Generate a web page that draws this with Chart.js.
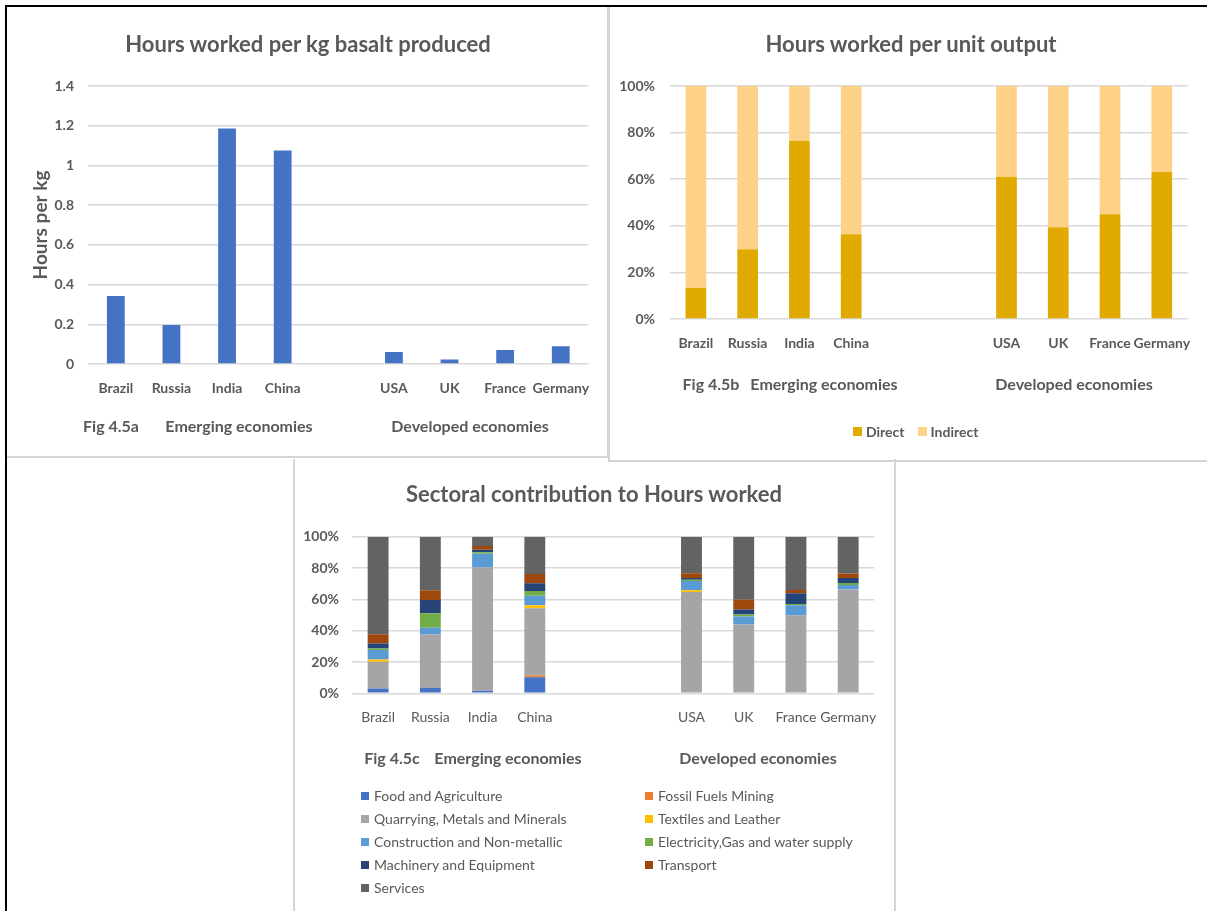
<!DOCTYPE html>
<html>
<head>
<meta charset="utf-8">
<title>Hours worked – basalt production</title>
<script src="https://cdn.jsdelivr.net/npm/chart.js@4.4.1/dist/chart.umd.min.js"></script>
<style>
  body { margin: 0; background: #fff; font-family: Lato, sans-serif; color: #595959; }
  #page { position: relative; width: 1207px; height: 911px; overflow: hidden; }
  .frame { position: absolute; box-sizing: border-box; }
  .holder { position: absolute; }
  .title { position: absolute; transform: translate(-50%, -50%); font-weight: bold; font-size: 22px; white-space: nowrap; }
  .cap { position: absolute; transform: translate(-50%, -50%); font-weight: bold; font-size: 16px; white-space: nowrap; }
  .legend span.item { display: flex; align-items: center; white-space: nowrap; }
  .legend i { display: inline-block; width: 8px; height: 8px; margin-right: 5px; }
  #legendB { position: absolute; left: 853px; top: 421px; height: 20px; display: flex; align-items: center; font-size: 14px; font-weight: bold; }
  #legendB span.item { margin-right: 13px; }
  #legendB i { width: 9px; height: 9px; margin-right: 4px; }
  #legendC { position: absolute; left: 361px; top: 784px; display: grid; grid-template-columns: 284px auto; grid-auto-rows: 23px; font-size: 14px; }
</style>
</head>
<body>
<div id="page">
  <div class="frame" style="left:5px;top:5px;width:1202px;height:906px;border-top:2px solid #000;border-left:2px solid #000;"></div>
  <div class="frame" style="left:7px;top:7px;width:602px;height:451px;border-right:2px solid #d4d4d4;border-bottom:2px solid #d4d4d4;"></div>
  <div class="frame" style="left:608px;top:7px;width:599px;height:455px;border-left:2px solid #d4d4d4;border-bottom:2px solid #d4d4d4;"></div>
  <div class="frame" style="left:293px;top:459px;width:603px;height:452px;border-left:2px solid #d4d4d4;border-right:2px solid #d4d4d4;"></div>

  <div class="holder" style="left:8px;top:8px;width:598px;height:448px;"><canvas id="chartA"></canvas></div>
  <div class="holder" style="left:611px;top:8px;width:596px;height:451px;"><canvas id="chartB"></canvas></div>
  <div class="holder" style="left:295px;top:461px;width:598px;height:450px;"><canvas id="chartC"></canvas></div>

  <div class="title" style="left:308px;top:43px;">Hours worked per kg basalt produced</div>
  <div class="title" style="left:911px;top:43px;">Hours worked per unit output</div>
  <div class="title" style="left:594px;top:493px;">Sectoral contribution to Hours worked</div>

  <div class="cap" style="left:111px;top:425px;">Fig 4.5a</div>
  <div class="cap" style="left:239px;top:425px;">Emerging economies</div>
  <div class="cap" style="left:470px;top:425px;">Developed economies</div>

  <div class="cap" style="left:711px;top:383px;">Fig 4.5b</div>
  <div class="cap" style="left:824px;top:383px;">Emerging economies</div>
  <div class="cap" style="left:1074px;top:383px;">Developed economies</div>

  <div class="cap" style="left:392px;top:757px;">Fig 4.5c</div>
  <div class="cap" style="left:508px;top:757px;">Emerging economies</div>
  <div class="cap" style="left:758px;top:757px;">Developed economies</div>

  <div id="legendB" class="legend"></div>
  <div id="legendC" class="legend"></div>
</div>

<script>
const emerging = ['Brazil', 'Russia', 'India', 'China'];
const developed = ['USA', 'UK', 'France', 'Germany'];

// Fig 4.5a – hours per kg
const hoursPerKg = [0.342, 0.196, 1.186, 1.075, 0.060, 0.023, 0.070, 0.090];

// Fig 4.5b – share of hours, %
const direct = [13.4, 29.9, 76.5, 36.4, 61.0, 39.4, 45.0, 63.1];
const indirect = [86.6, 70.1, 23.5, 63.6, 39.0, 60.6, 55.0, 36.9];

// Fig 4.5c – sectoral share of hours, %
const foodAgri     = [3.0, 3.6, 1.7, 10.3, 0, 0, 0, 0];
const fossilFuels  = [0, 0, 0, 1.1, 0, 0, 0, 0];
const quarrying    = [17.1, 34.0, 78.7, 42.9, 64.8, 44.0, 49.8, 66.4];
const textiles     = [1.5, 0, 0, 1.9, 1.1, 0, 0, 0];
const construction = [6.0, 4.3, 8.8, 6.2, 5.8, 5.1, 6.4, 2.8];
const electricity  = [1.1, 9.2, 0.9, 3.0, 0.9, 1.3, 0.9, 1.3];
const machinery    = [3.2, 8.5, 1.7, 4.9, 1.1, 3.2, 6.8, 3.2];
const transport    = [5.8, 6.2, 2.4, 6.0, 3.0, 6.2, 2.1, 2.8];
const services     = [62.3, 34.2, 5.8, 23.7, 23.3, 40.2, 34.0, 23.5];

Chart.defaults.font.family = 'Lato, sans-serif';
Chart.defaults.color = '#595959';

// empty slots between the two country groups
function withGap(values, gap) {
  return [...values.slice(0, 4), ...Array(gap).fill(null), ...values.slice(4)];
}
function labelsWithGap(gap) {
  return [...emerging, ...Array(gap).fill(''), ...developed];
}

const gridStyle = { color: '#d9d9d9', lineWidth: 1.5, drawTicks: false };
const pct = v => v + '%';
const noPlugins = { legend: { display: false }, tooltip: { enabled: false } };

function xAxis(bold, pad, stacked) {
  return {
    stacked: stacked,
    grid: { display: false, drawTicks: false },
    border: { display: false },
    ticks: { autoSkip: false, maxRotation: 0, padding: pad, font: { size: 14, weight: bold ? 'bold' : 'normal' } },
    afterFit: s => { s.height = 40; }
  };
}

function percentAxis(width, pad) {
  return {
    stacked: true, min: 0, max: 100,
    ticks: { stepSize: 20, padding: pad, callback: pct, font: { size: 14, weight: 'bold' } },
    grid: gridStyle,
    border: { display: false },
    afterFit: s => { s.width = width; }
  };
}

// builds an HTML legend from a chart's datasets
function fillLegend(id, chart) {
  const box = document.getElementById(id);
  chart.data.datasets.forEach(ds => {
    const item = document.createElement('span');
    item.className = 'item';
    const swatch = document.createElement('i');
    swatch.style.background = ds.backgroundColor;
    item.appendChild(swatch);
    item.appendChild(document.createTextNode(ds.label));
    box.appendChild(item);
  });
}

new Chart(document.getElementById('chartA'), {
  type: 'bar',
  data: {
    labels: labelsWithGap(1),
    datasets: [{
      label: 'Hours per kg',
      data: withGap(hoursPerKg, 1),
      backgroundColor: '#4472C4',
      barPercentage: 0.32,
      categoryPercentage: 1
    }]
  },
  options: {
    animation: false,
    maintainAspectRatio: false,
    layout: { padding: { top: 78, left: 0, right: 16, bottom: 52 } },
    plugins: noPlugins,
    scales: {
      x: xAxis(true, 16, false),
      y: {
        min: 0, max: 1.4,
        ticks: { stepSize: 0.2, padding: 14, callback: v => String(Number(v.toFixed(1))), font: { size: 14, weight: 'bold' } },
        grid: gridStyle,
        border: { display: false },
        title: { display: true, text: 'Hours per kg', font: { size: 19, weight: 'bold' }, padding: { top: 21.6, bottom: 0 } },
        afterFit: s => { s.width = 80; }
      }
    }
  }
});

const chartB = new Chart(document.getElementById('chartB'), {
  type: 'bar',
  data: {
    labels: labelsWithGap(2),
    datasets: [
      { label: 'Direct', data: withGap(direct, 2), backgroundColor: '#E1AA00', barPercentage: 0.4, categoryPercentage: 1 },
      { label: 'Indirect', data: withGap(indirect, 2), backgroundColor: '#FDD187', barPercentage: 0.4, categoryPercentage: 1 }
    ]
  },
  options: {
    animation: false,
    maintainAspectRatio: false,
    layout: { padding: { top: 78, left: 0, right: 7, bottom: 100 } },
    plugins: noPlugins,
    scales: {
      x: xAxis(true, 16.5, true),
      y: percentAxis(59, 15)
    }
  }
});

const sectorSeries = [
  ['Food and Agriculture', foodAgri, '#4472C4'],
  ['Fossil Fuels Mining', fossilFuels, '#ED7D31'],
  ['Quarrying, Metals and Minerals', quarrying, '#A5A5A5'],
  ['Textiles and Leather', textiles, '#FFC000'],
  ['Construction and Non-metallic', construction, '#5B9BD5'],
  ['Electricity,Gas and water supply', electricity, '#70AD47'],
  ['Machinery and Equipment', machinery, '#264478'],
  ['Transport', transport, '#9E480E'],
  ['Services', services, '#636363']
];

const chartC = new Chart(document.getElementById('chartC'), {
  type: 'bar',
  data: {
    labels: labelsWithGap(2),
    datasets: sectorSeries.map(([name, values, colour]) => ({
      label: name,
      data: withGap(values, 2),
      backgroundColor: colour,
      barPercentage: 0.4,
      categoryPercentage: 1
    }))
  },
  options: {
    animation: false,
    maintainAspectRatio: false,
    layout: { padding: { top: 75.8, left: 0, right: 17, bottom: 177.7 } },
    plugins: noPlugins,
    scales: {
      x: xAxis(false, 16, true),
      y: percentAxis(57, 13)
    }
  }
});

fillLegend('legendB', chartB);
fillLegend('legendC', chartC);
</script>
</body>
</html>
